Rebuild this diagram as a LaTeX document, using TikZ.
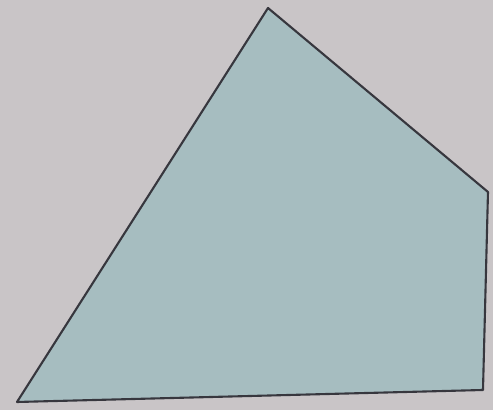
\documentclass[tikz,border=0pt]{standalone}
\definecolor{paper}{RGB}{201,197,199}
\definecolor{shade}{RGB}{166,189,192}
\definecolor{edge}{RGB}{55,55,62}
\begin{document}
\begin{tikzpicture}
	  \fill[paper] (0,0) rectangle (9.86,8.2);
	  \useasboundingbox (0,0) rectangle (9.86,8.2);
	  
	  \coordinate (A) at (0.34,0.16);
	  \coordinate (B) at (9.66,0.40);
	  \coordinate (C) at (9.76,4.36);
	  \coordinate (D) at (5.36,8.04);
	  
	  \draw[edge, fill=shade, line width=1.2pt, line join=round] (A) -- (B) -- (C) -- (D) -- cycle;
	\end{tikzpicture}
\end{document}
